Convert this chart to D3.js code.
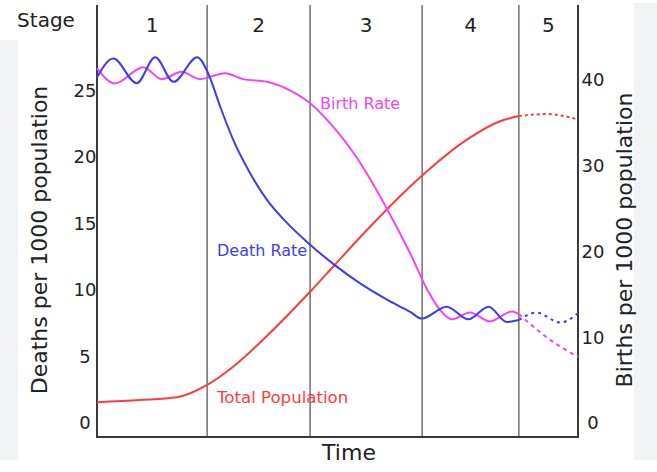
<!DOCTYPE html>
<html>
<head>
<meta charset="utf-8">
<script src="https://cdn.jsdelivr.net/npm/d3@7"></script>
<style>
    body { margin: 0; background: #fff; }
    svg { display: block; font-family: "DejaVu Sans", sans-serif; }
</style>
</head>
<body>
<svg id="chart" width="657" height="472"></svg>
<script>
// Demographic transition model, time runs 0..100

const stageLabels = ['1', '2', '3', '4', '5'];
const stageBounds = [0, 22.9, 44.3, 67.6, 87.7, 100];

const deathTicks = [0, 5, 10, 15, 20, 25];
const birthTicks = [0, 10, 20, 30, 40];

// [time, deaths per 1000]
const deathRate = [
    [0, 26.0], [3.4, 27.4], [8.25, 25.55], [12.1, 27.5], [15.9, 25.65], [20.85, 27.5],
    [23.1, 26.3], [25.6, 23.8], [28.3, 21.3], [31.8, 18.8], [35.3, 16.8],
    [39.4, 15.08], [44.3, 13.41], [49.5, 11.85], [54.7, 10.5], [60.2, 9.29],
    [65.1, 8.36], [67.5, 7.85], [72.7, 8.75], [77.2, 7.8], [81.4, 8.75],
    [85.2, 7.6], [87.7, 7.75]
];
const deathRateProjected = [[87.7, 7.75], [91.4, 8.3], [96.3, 7.55], [100, 8.25]];

// [time, births per 1000]
const birthRate = [
    [0, 41.35], [3.75, 39.6], [9.6, 41.5], [13.45, 40.1], [17.6, 40.95], [21.4, 40.1],
    [26.6, 40.8], [30.4, 40.1], [35.3, 39.8], [40.1, 38.8], [44.3, 37.3],
    [48.4, 35.0], [54.3, 30.7], [60.35, 24.9], [65.1, 19.8], [68.9, 15.3],
    [71.3, 13.2], [73.8, 12.1], [77.55, 12.9], [81.7, 11.85], [86.3, 13.0],
    [87.7, 12.7]
];
const birthRateProjected = [[87.7, 12.7], [94.2, 9.7], [100, 7.7]];

// [time, population index on the deaths scale]
const totalPopulation = [
    [0, 1.56], [8.9, 1.73], [16.6, 1.93], [22.9, 2.86], [28.3, 4.23], [35.3, 6.54],
    [44.3, 9.87], [49.5, 11.92], [54.7, 13.97], [60.35, 16.09], [65.1, 17.78],
    [68.9, 19.03], [76.9, 21.31], [83.8, 22.69], [87.7, 23.08]
];
const populationProjected = [[87.7, 23.08], [93.5, 23.23], [100, 22.83]];

const colors = { death: '#3d3df0', birth: '#f544f5', pop: '#ff3b3b' };

const svg = d3.select('#chart');
const plot = { left: 97, right: 578, top: 5, bottom: 437 };

const x = d3.scaleLinear().domain([0, 100]).range([plot.left, plot.right]);
const yDeath = d3.scaleLinear().domain([0, 25]).range([423, 90.5]);
const yBirth = d3.scaleLinear().domain([0, 40]).range([423, 80]);

// light grey screenshot margins
svg.append('rect').attr('x', 0).attr('y', 40).attr('width', 18).attr('height', 420).attr('fill', '#f2f3f5');
svg.append('rect').attr('x', 634).attr('y', 3).attr('width', 23).attr('height', 457).attr('fill', '#f2f3f5');

// stage dividers
svg.append('g')
    .selectAll('line')
    .data(stageBounds.slice(1, -1))
    .enter().append('line')
    .attr('x1', d => x(d)).attr('x2', d => x(d))
    .attr('y1', plot.top).attr('y2', plot.bottom)
    .attr('stroke', '#7a7a7a')
    .attr('stroke-width', 1.6);

// frame: left, right, bottom
const frame = svg.append('g').attr('stroke', '#3a3a3a').attr('stroke-width', 2);
frame.append('line').attr('x1', plot.left).attr('x2', plot.left).attr('y1', plot.top).attr('y2', plot.bottom + 1);
frame.append('line').attr('x1', plot.right).attr('x2', plot.right).attr('y1', plot.top).attr('y2', plot.bottom + 1);
frame.append('line').attr('x1', plot.left).attr('x2', plot.right).attr('y1', plot.bottom).attr('y2', plot.bottom);

// axes
const leftAxis = svg.append('g')
    .attr('transform', `translate(${plot.left},0)`)
    .call(d3.axisLeft(yDeath).tickValues(deathTicks).tickSize(0).tickPadding(12));
const rightAxis = svg.append('g')
    .attr('transform', `translate(${plot.right},0)`)
    .call(d3.axisRight(yBirth).tickValues(birthTicks).tickSize(0).tickPadding(15));
[leftAxis, rightAxis].forEach(g => {
    g.select('.domain').remove();
    g.selectAll('text')
        .attr('text-anchor', 'middle')
        .attr('font-family', '"DejaVu Sans", sans-serif')
        .attr('font-size', 18)
        .attr('fill', '#222');
});

// stage header
svg.append('text')
    .attr('x', 46).attr('y', 27)
    .attr('text-anchor', 'middle')
    .attr('font-size', 20).attr('fill', '#222')
    .text('Stage');
svg.append('g')
    .selectAll('text')
    .data(stageLabels)
    .enter().append('text')
    .attr('x', (d, i) => (x(stageBounds[i]) + x(stageBounds[i + 1])) / 2)
    .attr('y', 32)
    .attr('text-anchor', 'middle')
    .attr('font-size', 20).attr('fill', '#222')
    .text(d => d);

// axis titles
svg.append('text')
    .attr('transform', 'translate(47,240) rotate(-90)')
    .attr('text-anchor', 'middle')
    .attr('font-size', 22).attr('fill', '#222')
    .text('Deaths per 1000 population');
svg.append('text')
    .attr('transform', 'translate(632,240) rotate(-90)')
    .attr('text-anchor', 'middle')
    .attr('font-size', 22).attr('fill', '#222')
    .text('Births per 1000 population');
svg.append('text')
    .attr('x', 349).attr('y', 460)
    .attr('text-anchor', 'middle')
    .attr('font-size', 22).attr('fill', '#222')
    .text('Time');

// curves
const lineDeath = d3.line().x(d => x(d[0])).y(d => yDeath(d[1])).curve(d3.curveMonotoneX);
const lineBirth = d3.line().x(d => x(d[0])).y(d => yBirth(d[1])).curve(d3.curveMonotoneX);

const series = [
    { data: totalPopulation, line: lineDeath, color: colors.pop, dash: null },
    { data: populationProjected, line: lineDeath, color: colors.pop, dash: '3,3' },
    { data: birthRate, line: lineBirth, color: colors.birth, dash: null },
    { data: birthRateProjected, line: lineBirth, color: colors.birth, dash: '4,4' },
    { data: deathRate, line: lineDeath, color: colors.death, dash: null },
    { data: deathRateProjected, line: lineDeath, color: colors.death, dash: '3,4' }
];

svg.append('g')
    .selectAll('path')
    .data(series)
    .enter().append('path')
    .attr('d', s => s.line(s.data))
    .attr('fill', 'none')
    .attr('stroke', s => s.color)
    .attr('stroke-width', 2)
    .attr('stroke-dasharray', s => s.dash);

// curve labels
const curveLabels = [
    { text: 'Birth Rate', x: 320, y: 109, size: 16, color: colors.birth },
    { text: 'Death Rate', x: 217, y: 256, size: 16, color: colors.death },
    { text: 'Total Population', x: 217, y: 403, size: 16.6, color: colors.pop }
];
svg.append('g')
    .selectAll('text')
    .data(curveLabels)
    .enter().append('text')
    .attr('x', d => d.x).attr('y', d => d.y)
    .attr('font-size', d => d.size)
    .attr('fill', d => d.color)
    .text(d => d.text);
</script>
</body>
</html>
